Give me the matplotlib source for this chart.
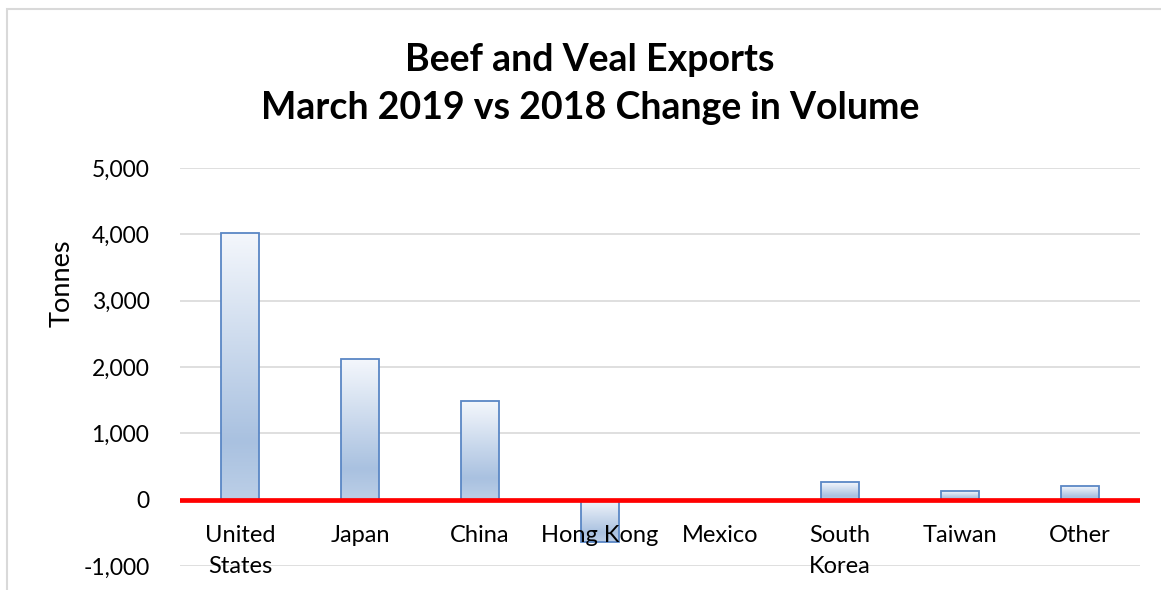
import matplotlib
matplotlib.use("Agg")
import matplotlib.pyplot as plt
import numpy as np
from matplotlib.colors import LinearSegmentedColormap
from matplotlib.patches import Rectangle

# data (tonnes, change Mar 2019 vs Mar 2018)
countries = ["United\nStates", "Japan", "China", "Hong Kong", "Mexico",
             "South\nKorea", "Taiwan", "Other"]
change = [4020, 2120, 1480, -640, 0, 260, 135, 210]
yticks = [-1000, 0, 1000, 2000, 3000, 4000, 5000]

title = "Beef and Veal Exports\nMarch 2019 vs 2018 Change in Volume"
font = ["Lato", "DejaVu Sans"]

plt.rcParams["font.family"] = font

fig = plt.figure(figsize=(11.61, 5.90), dpi=100)
ax = fig.add_axes([180 / 1161, 24 / 590, 960 / 1161, 398 / 590])

# light chart border like the excel frame
fig.patches.append(Rectangle((7 / 1161, -0.1), 1.2, (590 - 9) / 590 + 0.1,
                             transform=fig.transFigure, fill=False,
                             edgecolor="#d9d9d9", lw=1.5))

grad = LinearSegmentedColormap.from_list(
    "xl", [(0.0, "#f4f7fc"), (0.78, "#a9c1e0"), (1.0, "#bccfe7")])

x = np.arange(len(countries))
bars = ax.bar(x, change, width=0.31, color="none", edgecolor="#5a87c5",
              linewidth=1.3, zorder=3)

# gradient fill clipped to each bar, light at the far end, dark near zero
for b, v in zip(bars, change):
    if v == 0:
        continue
    x0, w = b.get_x(), b.get_width()
    lo, hi = sorted([0, v])
    g = np.linspace(0, 1, 256).reshape(-1, 1)
    if v < 0:
        g = g[::-1]
    im = ax.imshow(g, cmap=grad, aspect="auto", origin="upper" if v > 0 else "lower",
                   extent=[x0, x0 + w, lo, hi], zorder=2)
    im.set_clip_path(b)

ax.axhline(0, color="#ff0000", lw=3.4, zorder=4)

ax.set_xlim(-0.5, len(countries) - 0.5)
ax.set_ylim(-1000, 5000)
ax.set_yticks(yticks)
ax.set_yticklabels([f"{t:,}" for t in yticks], fontsize=16.5)
ax.tick_params(axis="y", length=0, pad=22)
ax.set_xticks([])
ax.grid(axis="y", color="#d9d9d9", lw=1.2, zorder=0)
ax.set_axisbelow(True)
for s in ax.spines.values():
    s.set_visible(False)

for xi, name in zip(x, countries):
    ax.annotate(name, (xi, 0), xytext=(0, -18.5), textcoords="offset points",
                ha="center", va="top", fontsize=17, linespacing=1.55, zorder=5)

fig.text(62 / 1161, 1 - 283 / 590, "Tonnes", rotation=90, ha="center",
         va="center", fontsize=19.5)
fig.text(590 / 1161, 1 - 84 / 590, title, ha="center", va="center",
         fontsize=27, fontweight="bold", linespacing=1.5)

fig.savefig("out.png", dpi=100)
